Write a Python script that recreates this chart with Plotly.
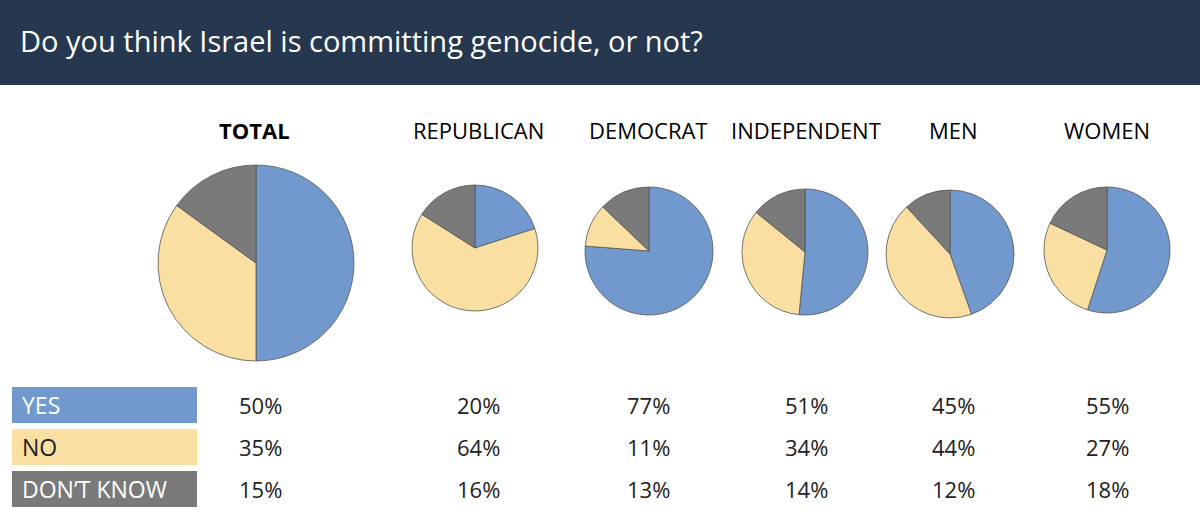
import plotly.graph_objects as go

W, H = 1200, 524

groups = ["TOTAL", "REPUBLICAN", "DEMOCRAT", "INDEPENDENT", "MEN", "WOMEN"]
answers = ["YES", "NO", "DON\u2019T KNOW"]
yes = [50, 20, 77, 51, 45, 55]
no = [35, 64, 11, 34, 44, 27]
dont_know = [15, 16, 13, 14, 12, 18]

colors = ["#7199cd", "#f9dfa1", "#7a7a7a"]
title = "Do you think Israel is committing genocide, or not?"

# pixel layout: centre x, centre y, radius
pies = [(256, 263, 98), (475, 248, 63), (649, 251, 64),
        (805, 252, 63), (950, 254, 64), (1107, 250, 63)]
col_x = [260, 478, 648, 806, 953, 1107]
row_y = [405, 447, 489]


def px_x(x):
    return x / W


def px_y(y):
    return 1 - y / H


fig = go.Figure()
for i, g in enumerate(groups):
    cx, cy, r = pies[i]
    fig.add_trace(go.Pie(
        values=[yes[i], no[i], dont_know[i]], labels=answers,
        sort=False, direction="clockwise", rotation=0,
        marker=dict(colors=colors, line=dict(color="#555", width=0.8)),
        textinfo="none", hoverinfo="label+percent", showlegend=False,
        domain=dict(x=[px_x(cx - r), px_x(cx + r)], y=[px_y(cy + r), px_y(cy - r)]),
    ))

shapes = [dict(type="rect", xref="paper", yref="paper", x0=0, x1=1,
               y0=px_y(85), y1=1, fillcolor="#263750", line_width=0, layer="below")]
ann = [dict(text=title, x=px_x(18), y=px_y(40), xref="paper", yref="paper",
            xanchor="left", yanchor="middle", showarrow=False,
            font=dict(size=29, color="white"))]

for i, g in enumerate(groups):
    ann.append(dict(text=f"<b>{g}</b>" if i == 0 else g, x=px_x(col_x[i] - (6 if i == 0 else 0)),
                    y=px_y(130), xref="paper", yref="paper", showarrow=False,
                    xanchor="center", yanchor="middle",
                    font=dict(size=22, color="black")))

series = [yes, no, dont_know]
for j, a in enumerate(answers):
    y = row_y[j]
    shapes.append(dict(type="rect", xref="paper", yref="paper", x0=px_x(12), x1=px_x(197),
                       y0=px_y(y + 18), y1=px_y(y - 18),
                       fillcolor=colors[j], line_width=0))
    ann.append(dict(text=a, x=px_x(20), y=px_y(y), xref="paper", yref="paper",
                    xanchor="left", yanchor="middle", showarrow=False,
                    font=dict(size=23, color="white" if j != 1 else "#222")))
    for i in range(len(groups)):
        ann.append(dict(text=f"{series[j][i]}%", x=px_x(col_x[i]), y=px_y(y),
                        xref="paper", yref="paper", showarrow=False,
                        xanchor="center", yanchor="middle",
                        font=dict(size=22, color="#222")))

fig.update_layout(width=W, height=H, margin=dict(l=0, r=0, t=0, b=0),
                  paper_bgcolor="white", shapes=shapes, annotations=ann,
                  font=dict(family="Open Sans, sans-serif"))
fig.write_html("out.html", config={"displayModeBar": False},
               post_script="document.body.style.margin='0';")
